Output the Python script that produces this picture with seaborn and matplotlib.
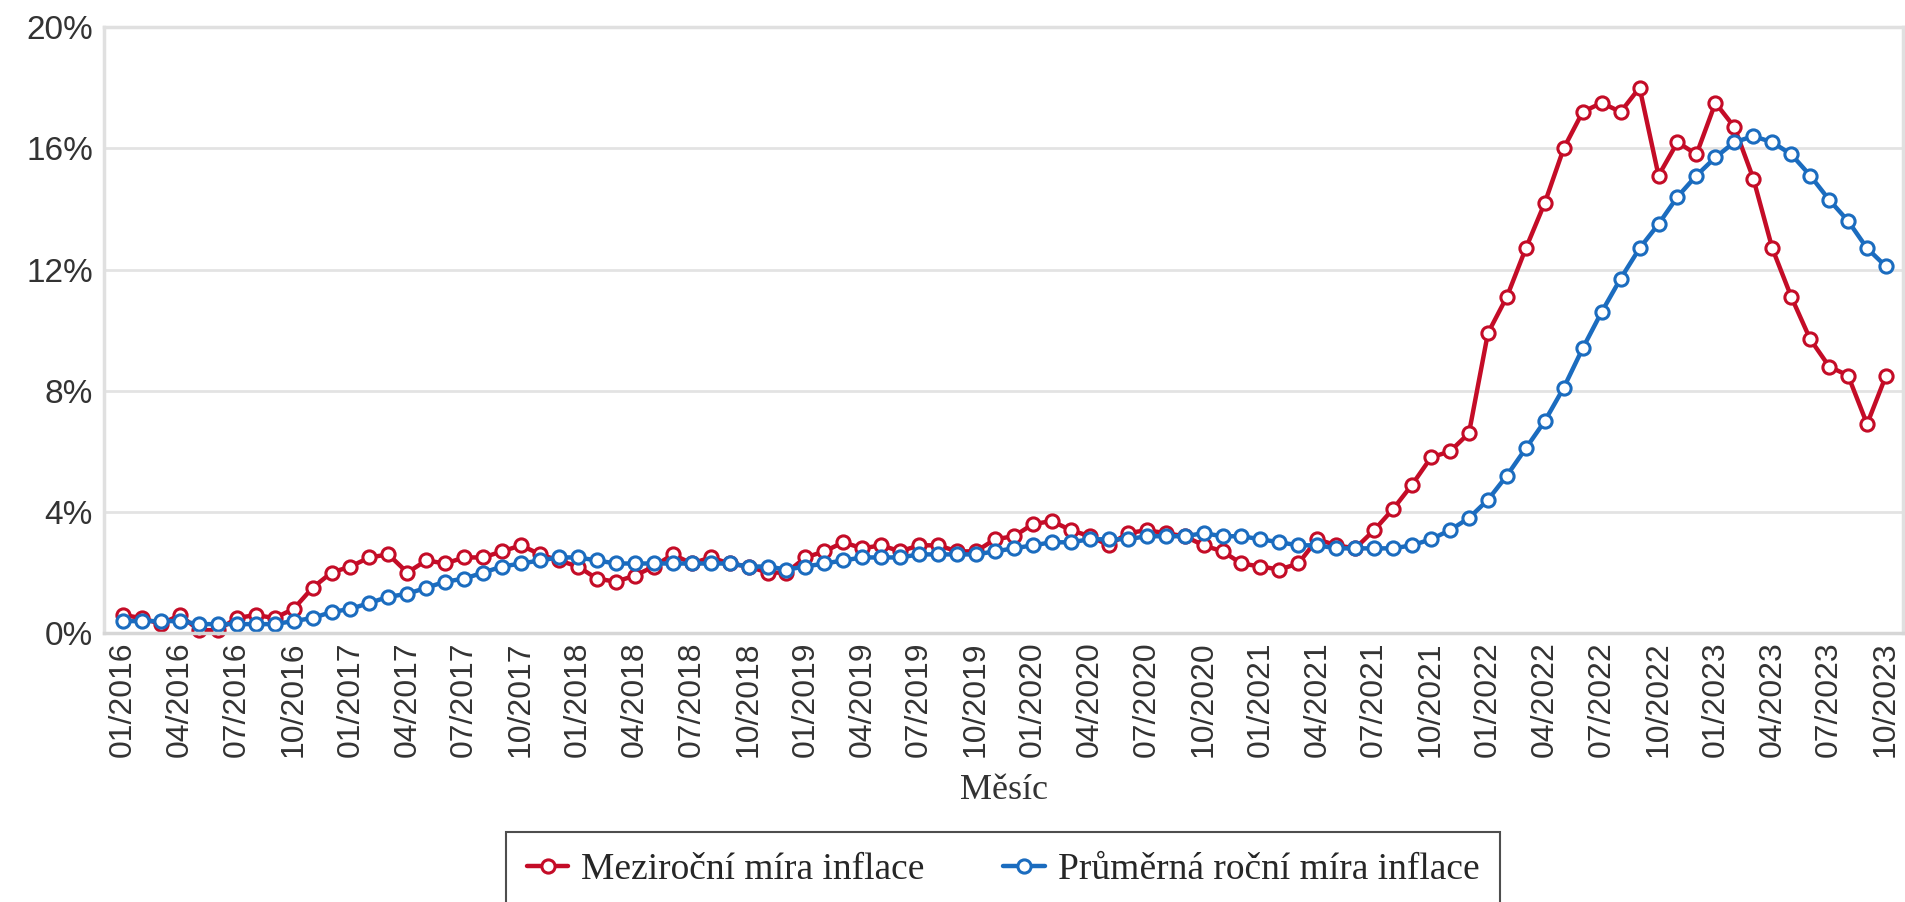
import numpy as np
import pandas as pd
import seaborn as sns
import matplotlib.pyplot as plt

sns.set_theme(style="white")
plt.rcParams['font.family'] = ['Liberation Sans', 'DejaVu Sans']

# Měsíce 01/2016 .. 10/2023
mesice = [f"{m:02d}/{r}" for r in range(2016, 2024) for m in range(1, 13)][:94]

# Meziroční míra inflace (%)
mezirocni = [0.6, 0.5, 0.3, 0.6, 0.1, 0.1, 0.5, 0.6, 0.5, 0.8, 1.5, 2.0,
             2.2, 2.5, 2.6, 2.0, 2.4, 2.3, 2.5, 2.5, 2.7, 2.9, 2.6, 2.4,
             2.2, 1.8, 1.7, 1.9, 2.2, 2.6, 2.3, 2.5, 2.3, 2.2, 2.0, 2.0,
             2.5, 2.7, 3.0, 2.8, 2.9, 2.7, 2.9, 2.9, 2.7, 2.7, 3.1, 3.2,
             3.6, 3.7, 3.4, 3.2, 2.9, 3.3, 3.4, 3.3, 3.2, 2.9, 2.7, 2.3,
             2.2, 2.1, 2.3, 3.1, 2.9, 2.8, 3.4, 4.1, 4.9, 5.8, 6.0, 6.6,
             9.9, 11.1, 12.7, 14.2, 16.0, 17.2, 17.5, 17.2, 18.0, 15.1, 16.2, 15.8,
             17.5, 16.7, 15.0, 12.7, 11.1, 9.7, 8.8, 8.5, 6.9, 8.5]

# Průměrná roční míra inflace (%)
prumerna = [0.4, 0.4, 0.4, 0.4, 0.3, 0.3, 0.3, 0.3, 0.3, 0.4, 0.5, 0.7,
            0.8, 1.0, 1.2, 1.3, 1.5, 1.7, 1.8, 2.0, 2.2, 2.3, 2.4, 2.5,
            2.5, 2.4, 2.3, 2.3, 2.3, 2.3, 2.3, 2.3, 2.3, 2.2, 2.2, 2.1,
            2.2, 2.3, 2.4, 2.5, 2.5, 2.5, 2.6, 2.6, 2.6, 2.6, 2.7, 2.8,
            2.9, 3.0, 3.0, 3.1, 3.1, 3.1, 3.2, 3.2, 3.2, 3.3, 3.2, 3.2,
            3.1, 3.0, 2.9, 2.9, 2.8, 2.8, 2.8, 2.8, 2.9, 3.1, 3.4, 3.8,
            4.4, 5.2, 6.1, 7.0, 8.1, 9.4, 10.6, 11.7, 12.7, 13.5, 14.4, 15.1,
            15.7, 16.2, 16.4, 16.2, 15.8, 15.1, 14.3, 13.6, 12.7, 12.1]

y_ticks = [0, 4, 8, 12, 16, 20]

df = pd.DataFrame({'i': np.arange(len(mesice)), 'mesic': mesice,
                   'mezirocni': mezirocni, 'prumerna': prumerna})

fig = plt.figure(figsize=(19.05, 9.02), dpi=100)
ax = fig.add_axes([0.0546, 0.298, 0.9444, 0.672])

cervena = '#c40c27'
modra = '#1b6cbf'
for col, barva, nazev in [('mezirocni', cervena, 'Meziroční míra inflace'),
                          ('prumerna', modra, 'Průměrná roční míra inflace')]:
    sns.lineplot(data=df, x='i', y=col, ax=ax, color=barva, label=nazev,
                 linewidth=3.2, marker='o', markersize=9.5,
                 markerfacecolor='white', markeredgecolor=barva,
                 markeredgewidth=2.2, clip_on=False, legend=False)

# osy a mřížka
ax.set_xlim(-1, 93.9)
ax.set_ylim(0, 20)
ax.set_yticks(y_ticks)
ax.set_yticklabels([f"{t}%" for t in y_ticks], fontsize=24, color='#333333')
ax.set_xticks(df['i'][::3])
ax.set_xticklabels(df['mesic'][::3], rotation=90, fontsize=23, color='#333333')
ax.tick_params(axis='both', length=0)
ax.tick_params(axis='x', pad=6)
ax.tick_params(axis='y', pad=8)
ax.grid(axis='y', color='#e3e3e3', linewidth=2)
for s in ax.spines.values():
    s.set_color('#e0e0e0')
    s.set_linewidth(2.5)
ax.spines['bottom'].set_color('#d6d6d6')

ax.set_ylabel('')
ax.set_xlabel('Měsíc', fontsize=26, family=['Liberation Serif'], color='#333333', labelpad=12)

h, l = ax.get_legend_handles_labels()
leg = fig.legend(h, l, loc='upper center', bbox_to_anchor=(0.5266, 0.0776),
                 borderaxespad=0, ncol=2, frameon=True, fancybox=False,
                 prop={'family': 'Liberation Serif', 'size': 27},
                 handlelength=1.1, handletextpad=0.35, columnspacing=2.1,
                 borderpad=0.55)
leg.get_frame().set_edgecolor('#222222')
leg.get_frame().set_linewidth(1.5)

fig.savefig('out.png', dpi=100)
